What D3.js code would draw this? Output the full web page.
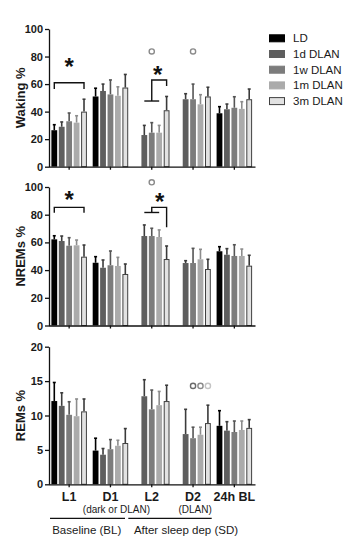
<!DOCTYPE html>
<html>
<head>
<meta charset="utf-8">
<script src="https://cdn.jsdelivr.net/npm/d3@7"></script>
<style>
    body { margin: 0; background: #fff; }
    svg { display: block; font-family: "Liberation Sans", Arial, sans-serif; }
</style>
</head>
<body>
<svg id="chart" width="355" height="550"></svg>
<script>
// Groups on the x axis
const groups = ["L1", "D1", "L2", "D2", "24h BL"];

// Light conditions (bar series)
const seriesNames = ["LD", "1d DLAN", "1w DLAN", "1m DLAN", "3m DLAN"];

// Waking % (mean and SEM, one row per group, null = not measured)
const wakingMean = [
    [26.5, 29, 33, 32, 40],
    [51, 55, 52.5, 51.5, 57.5],
    [null, 23, 24.7, 24.7, 41],
    [null, 49, 49, 45.3, 51],
    [38.8, 41.7, 42.8, 42, 49]
];
const wakingSem = [
    [4, 3.5, 6, 5, 9],
    [6, 5, 10.5, 6.5, 9.5],
    [null, 7, 7.3, 5.3, 10],
    [null, 4, 11, 7, 6.7],
    [4.8, 3.8, 8, 5.2, 7.4]
];

// NREMs %
const nremMean = [
    [62.2, 61, 57.6, 57.9, 49.7],
    [45.3, 41.7, 43.5, 43, 37.2],
    [null, 64.6, 64.6, 63.9, 48],
    [null, 45.1, 45.1, 47.8, 40.8],
    [53.6, 51.1, 50.2, 50.2, 43.2]
];
const nremSem = [
    [2.6, 3.6, 5.8, 3.8, 8.4],
    [4.4, 5.6, 10.3, 6.2, 7.2],
    [null, 8, 5.6, 5.1, 9.4],
    [null, 1.7, 10.6, 7.2, 7],
    [3.3, 4.4, 8.1, 5, 7.5]
];

// REMs %
const remMean = [
    [12.1, 11.4, 10.1, 9.9, 10.6],
    [4.9, 4.3, 5.1, 5.6, 6.0],
    [null, 12.8, 10.9, 11.5, 12.1],
    [null, 7.3, 6.7, 7.2, 8.9],
    [8.5, 7.8, 7.6, 7.9, 8.2]
];
const remSem = [
    [2.7, 1.9, 1.9, 2.5, 1.8],
    [1.8, 0.9, 1.4, 0.8, 2.1],
    [null, 2.4, 2.8, 2.0, 2.3],
    [null, 3.6, 1.6, 1.1, 2.6],
    [2.2, 1.3, 1.6, 1.3, 1.2]
];

// Y tick labels
const percentTicks = [0, 20, 40, 60, 80, 100];
const remTicks = [0, 5, 10, 15, 20];


/**
 * Three stacked bar panels sharing one x layout
 *
 * @param element
 * @constructor
 */
function SleepBarChart(element) {
    // Svg element in the document
    this.element = element;

    // Fill colours per series
    this.fills = ["#000000", "#5e5e5e", "#7c7c7c", "#ababab", "#e2e2e2"];

    // Error bar colours per series
    this.errColors = ["#000000", "#3c3c3c", "#555555", "#8c8c8c", "#3a3a3a"];

    /**
     * Initializes the chart
     */
    this.init = function () {
        let me = this;

        me.svg = d3.select(me.element);
        me.svg.selectAll("*").remove();

        // Group scale and series scale inside one group
        me.x = d3.scaleBand()
            .domain(groups)
            .range([48.5, 255])
            .paddingInner(0.14)
            .paddingOuter(0.07);
        me.xs = d3.scaleBand()
            .domain(seriesNames)
            .range([0, me.x.bandwidth()])
            .paddingInner(0.22);

        me.panels = [
            {label: "Waking %", mean: wakingMean, sem: wakingSem, ticks: percentTicks, top: 29, bottom: 166.7},
            {label: "NREMs %", mean: nremMean, sem: nremSem, ticks: percentTicks, top: 187, bottom: 325.5},
            {label: "REMs %", mean: remMean, sem: remSem, ticks: remTicks, top: 346.7, bottom: 484.3}
        ];

        me.panels.forEach(function (p, i) {
            p.y = d3.scaleLinear()
                .domain([0, d3.max(p.ticks)])
                .range([p.bottom, p.top]);
            me.drawPanel(p, i === me.panels.length - 1);
        });

        me.drawMarks();
        me.drawLegend();
        me.drawFooter();
    };


    /**
     * Bars, error bars and axes of one panel
     */
    this.drawPanel = function (p, isLast) {
        let me = this;
        let g = me.svg.append("g");

        let cells = [];
        groups.forEach(function (grp, gi) {
            seriesNames.forEach(function (s, si) {
                if (p.mean[gi][si] !== null) {
                    cells.push({group: grp, series: s, si: si, mean: p.mean[gi][si], sem: p.sem[gi][si]});
                }
            });
        });

        let cx = function (d) {
            return me.x(d.group) + me.xs(d.series) + me.xs.bandwidth() / 2;
        };

        // Error bars first so the bar edge covers their base
        let err = g.append("g").selectAll("g").data(cells).join("g")
            .attr("stroke", function (d) { return me.errColors[d.si]; })
            .attr("stroke-width", 1.6);
        err.append("line")
            .attr("x1", cx).attr("x2", cx)
            .attr("y1", function (d) { return p.y(d.mean); })
            .attr("y2", function (d) { return p.y(d.mean + d.sem); });
        err.append("line")
            .attr("x1", function (d) { return cx(d) - 1.5; })
            .attr("x2", function (d) { return cx(d) + 1.5; })
            .attr("y1", function (d) { return p.y(d.mean + d.sem); })
            .attr("y2", function (d) { return p.y(d.mean + d.sem); });

        // Bars (the 3m bar has an outline, kept inside its band)
        g.append("g").selectAll("rect").data(cells).join("rect")
            .attr("x", function (d) { return me.x(d.group) + me.xs(d.series) + (d.si === 4 ? 0.5 : 0); })
            .attr("y", function (d) { return p.y(d.mean) + (d.si === 4 ? 0.5 : 0); })
            .attr("width", function (d) { return me.xs.bandwidth() - (d.si === 4 ? 1 : 0); })
            .attr("height", function (d) { return p.y(0) - p.y(d.mean) - (d.si === 4 ? 0.5 : 0); })
            .attr("fill", function (d) { return me.fills[d.si]; })
            .attr("stroke", function (d) { return d.si === 4 ? "#404040" : "none"; })
            .attr("stroke-width", 1);

        // Y axis
        let yAxis = g.append("g")
            .attr("transform", "translate(49,0)")
            .call(d3.axisLeft(p.y).tickValues(p.ticks).tickSize(4).tickSizeOuter(0).tickPadding(2));
        yAxis.selectAll("text")
            .attr("font-size", "11px")
            .attr("font-weight", "bold")
            .attr("fill", "#1a1a1a");

        // X axis
        let xAxis = g.append("g")
            .attr("transform", "translate(0," + p.bottom + ")")
            .call(d3.axisBottom(me.x).tickSize(3).tickSizeOuter(0).tickPadding(5)
                .tickFormat(isLast ? null : ""));
        xAxis.selectAll("text")
            .attr("font-size", "12.5px")
            .attr("font-weight", "bold")
            .attr("fill", "#1a1a1a");

        g.selectAll(".domain, .tick line")
            .attr("stroke", "#111")
            .attr("stroke-width", 1.3);

        // Y label
        g.append("text")
            .attr("transform", "translate(25," + ((p.top + p.bottom) / 2) + ") rotate(-90)")
            .attr("text-anchor", "middle")
            .attr("font-size", "13px")
            .attr("font-weight", "bold")
            .attr("fill", "#1a1a1a")
            .text(p.label);
    };


    /**
     * Significance brackets, stars and circles
     */
    this.drawMarks = function () {
        let me = this;
        let sx = function (gi, si) {
            return me.x(groups[gi]) + me.xs(seriesNames[si]) + me.xs.bandwidth() / 2;
        };
        let line = d3.line();
        let top = me.panels[0], mid = me.panels[1], bot = me.panels[2];

        let paths = [
            // L1 brackets
            [[sx(0, 0), top.y(56.5)], [sx(0, 0), top.y(61)], [sx(0, 4), top.y(61)], [sx(0, 4), top.y(56.5)]],
            [[sx(0, 0), mid.y(81.4)], [sx(0, 0), mid.y(85.3)], [sx(0, 4), mid.y(85.3)], [sx(0, 4), mid.y(81.4)]],
            // L2 brackets (1d-1m vs 3m)
            [[sx(2, 1), top.y(47.7)], [sx(2, 3), top.y(47.7)]],
            [[sx(2, 2), top.y(47.7)], [sx(2, 2), top.y(63)], [sx(2, 4), top.y(63)], [sx(2, 4), top.y(58.6)]],
            [[sx(2, 1), mid.y(81.6)], [sx(2, 3), mid.y(81.6)]],
            [[sx(2, 2), mid.y(81.6)], [sx(2, 2), mid.y(85.3)], [sx(2, 4), mid.y(85.3)], [sx(2, 4), mid.y(71)]]
        ];
        me.svg.append("g").selectAll("path").data(paths).join("path")
            .attr("d", line)
            .attr("fill", "none")
            .attr("stroke", "#111")
            .attr("stroke-width", 1.4);

        let stars = [
            [me.x("L1") + me.x.bandwidth() / 2, top.y(76)],
            [sx(2, 2) + 6, top.y(70.2)],
            [me.x("L1") + me.x.bandwidth() / 2, mid.y(94.2)],
            [sx(2, 2) + 8, mid.y(93)]
        ];
        me.svg.append("g").selectAll("text").data(stars).join("text")
            .attr("x", function (d) { return d[0]; })
            .attr("y", function (d) { return d[1] + 13; })
            .attr("text-anchor", "middle")
            .attr("font-size", "24px")
            .attr("font-weight", "bold")
            .attr("fill", "#111")
            .text("*");

        let circles = [
            [sx(2, 2), top.y(83.7), "#8a8a8a"],
            [sx(3, 2), top.y(83.7), "#8a8a8a"],
            [sx(2, 2), mid.y(103.4), "#8a8a8a"],
            [sx(3, 2), bot.y(14.3), "#6a6a6a"],
            [sx(3, 3), bot.y(14.3), "#8a8a8a"],
            [sx(3, 4), bot.y(14.3), "#c4c4c4"]
        ];
        me.svg.append("g").selectAll("circle").data(circles).join("circle")
            .attr("cx", function (d) { return d[0]; })
            .attr("cy", function (d) { return d[1]; })
            .attr("r", 2.6)
            .attr("fill", "none")
            .attr("stroke", function (d) { return d[2]; })
            .attr("stroke-width", 1.4);
    };


    /**
     * Legend at the top right
     */
    this.drawLegend = function () {
        let me = this;
        let rows = me.svg.append("g").selectAll("g").data(seriesNames).join("g")
            .attr("transform", function (d, i) { return "translate(269," + (38.3 + i * 15.7) + ")"; });
        rows.append("rect")
            .attr("x", 0.5).attr("y", -3.5)
            .attr("width", 15).attr("height", 7)
            .attr("fill", function (d, i) { return me.fills[i]; })
            .attr("stroke", function (d, i) { return i === 4 ? "#404040" : me.fills[i]; })
            .attr("stroke-width", 1);
        rows.append("text")
            .attr("x", 24).attr("y", 4)
            .attr("font-size", "11.5px")
            .attr("fill", "#1a1a1a")
            .text(function (d) { return d; });
    };


    /**
     * Period notes and underlines below the last axis
     */
    this.drawFooter = function () {
        let me = this;
        let g = me.svg.append("g").attr("fill", "#1a1a1a");
        let c = function (grp) { return me.x(grp) + me.x.bandwidth() / 2; };

        g.append("text").attr("x", c("D1") + 6).attr("y", 512.5)
            .attr("text-anchor", "middle").attr("font-size", "10px").text("(dark or DLAN)");
        g.append("text").attr("x", c("D2") + 2).attr("y", 512.5)
            .attr("text-anchor", "middle").attr("font-size", "10px").text("(DLAN)");

        g.append("line").attr("x1", 50).attr("x2", 125).attr("y1", 518.3).attr("y2", 518.3)
            .attr("stroke", "#111").attr("stroke-width", 1.2);
        g.append("line").attr("x1", 128.3).attr("x2", 211.7).attr("y1", 518.3).attr("y2", 518.3)
            .attr("stroke", "#111").attr("stroke-width", 1.2);

        g.append("text").attr("x", 86.7).attr("y", 533.5)
            .attr("text-anchor", "middle").attr("font-size", "11.5px").text("Baseline (BL)");
        g.append("text").attr("x", 186).attr("y", 533.5)
            .attr("text-anchor", "middle").attr("font-size", "11.5px").text("After sleep dep (SD)");
    };


    // Init the chart
    this.init();
}

new SleepBarChart(document.getElementById("chart"));
</script>
</body>
</html>
